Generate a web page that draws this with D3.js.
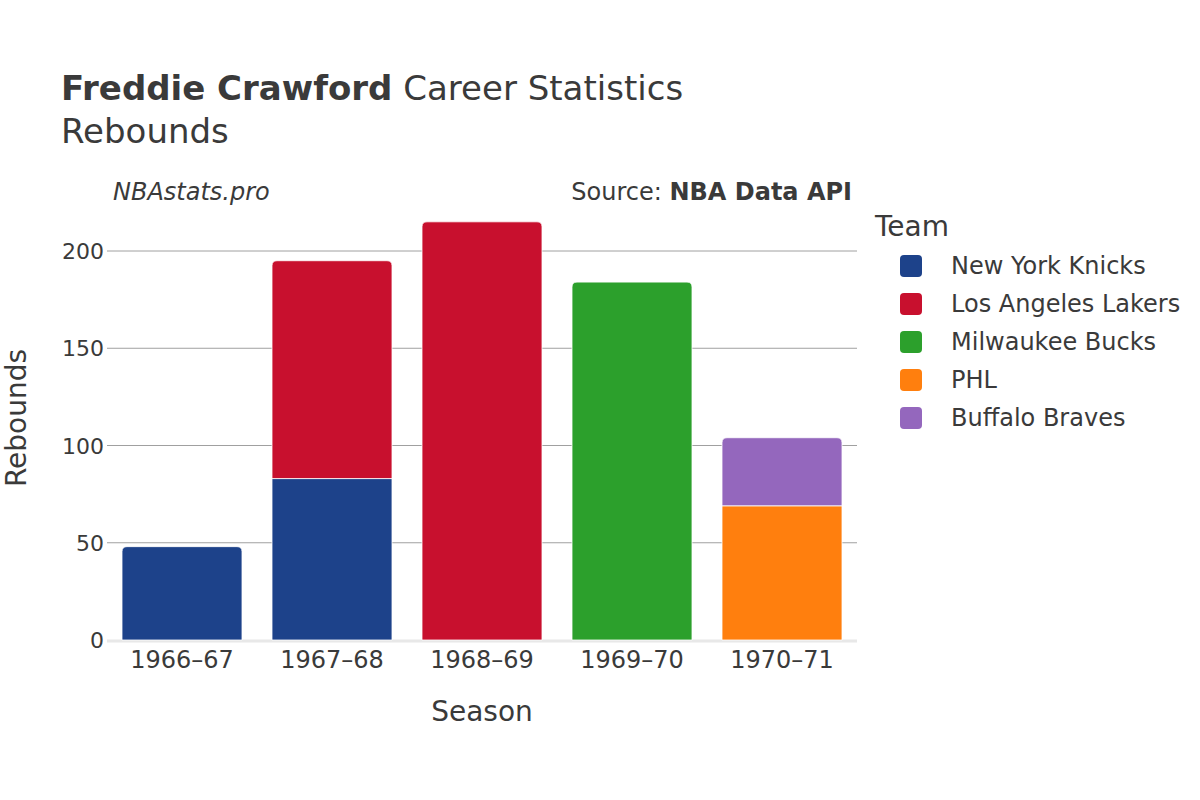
<!DOCTYPE html>
<html>
<head>
<meta charset="utf-8">
<script src="https://cdn.jsdelivr.net/npm/d3@7"></script>
<style>
  html, body { margin: 0; padding: 0; background: #fff; }
  svg { display: block; font-family: "DejaVu Sans", sans-serif; }
</style>
</head>
<body>
<svg id="chart" width="1200" height="800"></svg>
<script>
const seasons = ["1966\u201367", "1967\u201368", "1968\u201369", "1969\u201370", "1970\u201371"];
const teams = ["New York Knicks", "Los Angeles Lakers", "Milwaukee Bucks", "PHL", "Buffalo Braves"];
const teamColors = ["#1d428a", "#c8102e", "#2ca02c", "#ff7f0e", "#9467bd"];
const knicks = [48, 83, 0, 0, 0];
const lakers = [0, 112, 215, 0, 0];
const bucks = [0, 0, 0, 184, 0];
const phl = [0, 0, 0, 0, 69];
const braves = [0, 0, 0, 0, 35];
const yTicks = [0, 50, 100, 150, 200];

const seriesValues = [knicks, lakers, bucks, phl, braves];
const rows = seasons.map((s, i) => {
  const r = { season: s };
  teams.forEach((t, j) => r[t] = seriesValues[j][i]);
  return r;
});

const svg = d3.select("#chart");
const textColor = "#3a3a3a";

const x = d3.scaleBand().domain(seasons).range([107, 857]).paddingInner(0.2).paddingOuter(0.1);
const y = d3.scaleLinear().domain([0, 200]).range([640, 251]);
const color = d3.scaleOrdinal().domain(teams).range(teamColors);

// grid lines
svg.append("g").selectAll("line")
  .data(yTicks.filter(d => d > 0))
  .join("line")
  .attr("x1", 107).attr("x2", 857)
  .attr("y1", d => y(d)).attr("y2", d => y(d))
  .attr("stroke", "#a0a0a0").attr("stroke-width", 1);

// zero line
svg.append("line")
  .attr("x1", 107).attr("x2", 857)
  .attr("y1", y(0) + 1).attr("y2", y(0) + 1)
  .attr("stroke", "#e8e8e8").attr("stroke-width", 3);

// stacked bars
const stack = d3.stack().keys(teams)(rows);
const totals = rows.map(r => d3.sum(teams, t => r[t]));
const r = 5;
function barPath(x0, w, yTop, yBot, rounded) {
  if (!rounded) return `M${x0},${yBot}V${yTop}H${x0 + w}V${yBot}Z`;
  return `M${x0},${yBot}V${yTop + r}Q${x0},${yTop} ${x0 + r},${yTop}H${x0 + w - r}Q${x0 + w},${yTop} ${x0 + w},${yTop + r}V${yBot}Z`;
}
stack.forEach(layer => {
  svg.append("g").selectAll("path")
    .data(layer.filter(d => d[1] - d[0] > 0))
    .join("path")
    .attr("d", d => {
      const i = seasons.indexOf(d.data.season);
      return barPath(x(d.data.season), x.bandwidth(), y(d[1]), y(d[0]), d[1] === totals[i]);
    })
    .attr("fill", color(layer.key))
    .attr("stroke", "#fff").attr("stroke-width", 0.8);
});

// y axis labels
svg.append("g").selectAll("text")
  .data(yTicks).join("text")
  .attr("x", 104).attr("y", d => y(d) + 8)
  .attr("text-anchor", "end")
  .attr("font-size", 22).attr("fill", textColor)
  .text(d => d);

// x axis labels
svg.append("g").selectAll("text")
  .data(seasons).join("text")
  .attr("x", d => x(d) + x.bandwidth() / 2).attr("y", 668)
  .attr("text-anchor", "middle")
  .attr("font-size", 24).attr("fill", textColor)
  .text(d => d);

// axis titles
svg.append("text").attr("x", 482).attr("y", 721).attr("text-anchor", "middle")
  .attr("font-size", 28).attr("fill", textColor).text("Season");
svg.append("text").attr("transform", "translate(26,418) rotate(-90)").attr("text-anchor", "middle")
  .attr("font-size", 28).attr("fill", textColor).text("Rebounds");

// title
const title = svg.append("text").attr("x", 61).attr("y", 100).attr("font-size", 34).attr("fill", textColor);
title.append("tspan").attr("font-weight", "bold").text("Freddie Crawford");
title.append("tspan").text(" Career Statistics");
svg.append("text").attr("x", 61).attr("y", 143).attr("font-size", 34).attr("fill", textColor).text("Rebounds");

svg.append("text").attr("x", 113).attr("y", 200).attr("font-size", 24).attr("font-style", "italic")
  .attr("fill", textColor).text("NBAstats.pro");
const src = svg.append("text").attr("x", 852).attr("y", 200).attr("text-anchor", "end")
  .attr("font-size", 24).attr("fill", textColor);
src.append("tspan").text("Source: ");
src.append("tspan").attr("font-weight", "bold").text("NBA Data API");

// legend
svg.append("text").attr("x", 875).attr("y", 236).attr("font-size", 28).attr("fill", textColor).text("Team");
const leg = svg.append("g").selectAll("g").data(teams).join("g")
  .attr("transform", (d, i) => `translate(0,${266 + i * 38})`);
leg.append("rect").attr("x", 900).attr("y", -11).attr("width", 22).attr("height", 22)
  .attr("rx", 4).attr("fill", d => color(d));
leg.append("text").attr("x", 951).attr("y", 8).attr("font-size", 24).attr("fill", textColor).text(d => d);
</script>
</body>
</html>
